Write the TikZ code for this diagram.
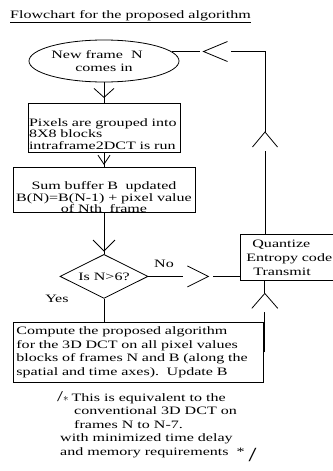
\documentclass[tikz,border=0pt]{standalone}
\usepackage{fontspec}
\setmainfont{Liberation Serif}[FakeStretch=1.42]
\usepackage{tikz}
\usetikzlibrary{shapes.geometric, positioning, decorations.markings}

\begin{document}
\begin{tikzpicture}[x=1pt, y=-1pt,
    every node/.style={font=\fontsize{11.3}{13.5}\selectfont, inner sep=0pt},
    terminal/.style={ellipse, draw, line width=0.8pt, minimum width=150pt, minimum height=42pt, align=center},
    process/.style={rectangle, draw, line width=0.8pt, align=left, inner xsep=1pt},
    decision/.style={diamond, draw, line width=0.8pt, aspect=2, minimum width=88pt, minimum height=44pt},
    conn/.style={line width=0.8pt},
    % open chevron on a line: position, length, half width
    chev/.style n args={3}{postaction={decorate, decoration={markings,
        mark=at position #1 with {\draw[line width=0.8pt] (-#2,#3) -- (0pt,0pt) -- (-#2,-#3);}}}},
    % same, with the line broken round it
    gapchev/.style n args={4}{postaction={decorate, decoration={markings,
        mark=at position #1 with {\draw[white, line width=2.5pt] (-#2-4pt,0pt) -- (#4,0pt);
            \draw[line width=0.8pt] (-#2,#3) -- (0pt,0pt) -- (-#2,-#3);}}}},
]
    \fill[white] (0,0) rectangle (332,471);
    \useasboundingbox (0,0) rectangle (332,471);

    \node[anchor=base west] (title) at (10,18.5) {\underline{Flowchart for the proposed algorithm}};
    \node[terminal] (newframe) at (104,61) {New frame\ \ N\rule{14pt}{0pt}\\comes in};
    \node[process, below=21pt of newframe, text width=150pt, minimum height=49pt, text depth=11.5pt,
        font=\fontsize{11.3}{11.5}\selectfont] (pixels) {Pixels are grouped into\\8X8 blocks\\intraframe2DCT is run};
    \node[process, align=center, below=14pt of pixels, text width=180pt, minimum height=45pt, text depth=8.5pt,
        font=\fontsize{11.3}{11.5}\selectfont] (sum) {Sum buffer B\ \ updated\\B(N)=B(N-1) + pixel value\\of Nth\ \ frame};
    \node[decision, below=41pt of sum] (test) {Is N>6?};
    \node[process, anchor=north west, text width=244pt, inner xsep=3pt, minimum height=60pt] (compute) at (13,322)
        {Compute the proposed algorithm\\for the 3D DCT on all pixel values\\blocks of frames N and B (along the\\spatial and time axes).\ \ Update B};
    \node[process, anchor=north west, text width=90pt, inner xsep=6pt, minimum height=46pt,
        font=\fontsize{11.3}{14}\selectfont] (quantize) at (240,234)
        {\hspace*{6pt}Quantize\\Entropy code\\\hspace*{7pt}Transmit};
    \node[anchor=north west, align=left] (remark) at (57,391)
        {{\fontsize{15}{13.5}\selectfont /}$\ast$\hspace{3pt}This is equivalent to the\\
         \hspace*{17pt}conventional 3D DCT on\\
         \hspace*{17pt}frames N to N-7.\\
         \hspace*{3pt}with minimized time delay\\
         \hspace*{3pt}and memory requirements\ \ *\ \smash{\raisebox{-6pt}{\fontsize{20}{20}\selectfont /}}};

    \draw[conn, chev={15pt}{9pt}{10pt}] (newframe) -- (pixels);
    \draw[conn, chev={11pt}{9pt}{6pt}] (pixels) -- (sum);
    \draw[conn, chev={38pt}{11pt}{11pt}] (sum) -- (test);
    \draw[conn, chev={25pt}{16pt}{16pt}] (test.south) -- node[pos=0, left=35pt] {Yes} (test.south |- compute.north);
    \draw[conn, gapchev={60pt}{21pt}{10.5pt}{5pt}] (test.east) -- node[pos=0.17, above=8pt] {No} (test.east -| quantize.west);

    \coordinate (qtop) at ([xshift=25pt]quantize.north west);
    \draw[conn, gapchev={102pt}{15pt}{12.5pt}{0pt}, gapchev={244pt}{24pt}{10pt}{3pt}] (qtop) |- (newframe.8);
    \coordinate (fb) at ([xshift=1pt]compute.east);
    \draw[conn, gapchev={59pt}{15pt}{13pt}{0pt}] (fb) -- (fb |- quantize.south);
\end{tikzpicture}
\end{document}
